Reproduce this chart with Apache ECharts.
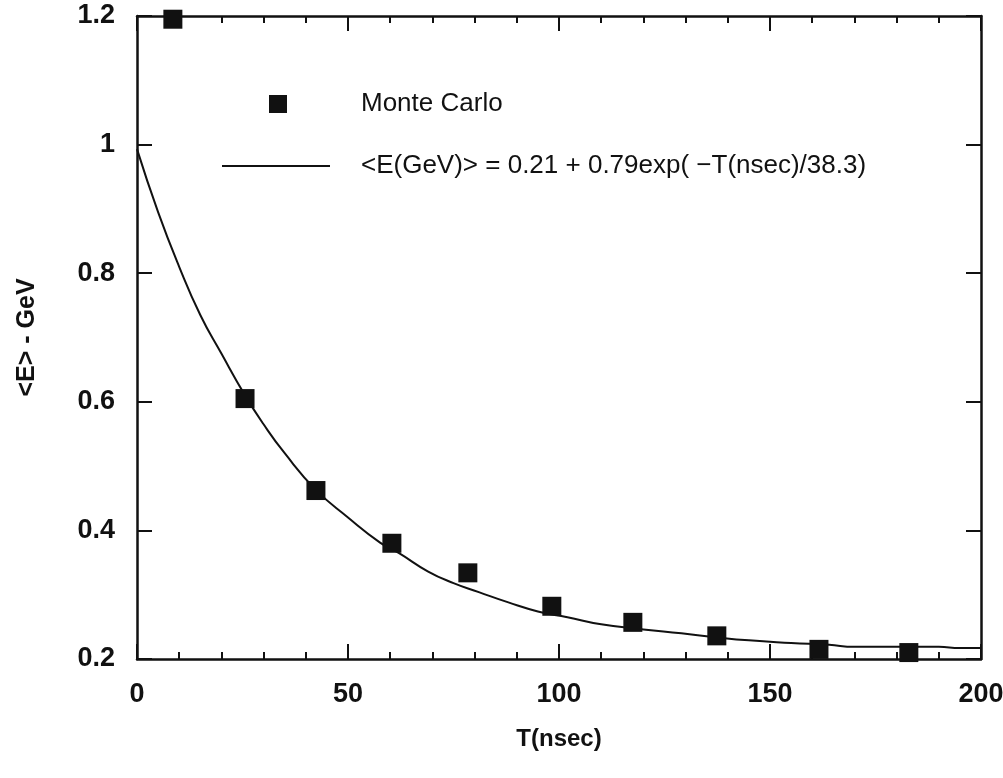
<!DOCTYPE html>
<html>
<head>
<meta charset="utf-8">
<script src="https://cdn.jsdelivr.net/npm/echarts@6/dist/echarts.min.js"></script>
<style>
html,body{margin:0;padding:0;background:#fff;}
#chart{width:1003px;height:778px;}
</style>
</head>
<body>
<div id="chart"></div>
<script>
// Monte Carlo points: T (nsec), <E> (GeV)
var mcT = [8.5, 25.6, 42.4, 60.4, 78.4, 98.3, 117.5, 137.4, 161.6, 182.9];
var mcE = [1.195, 0.605, 0.462, 0.380, 0.334, 0.282, 0.257, 0.236, 0.215, 0.210];
// Fit curve
var fitT = [0, 5, 10, 15, 20, 25.6, 30, 35, 42.4, 50, 57.6, 62, 69, 75, 81, 88, 95, 102, 110, 120, 129, 137, 145, 155, 164, 170, 180, 190, 195, 200];
var fitE = [0.993, 0.895, 0.81, 0.735, 0.675, 0.610, 0.565, 0.52, 0.463, 0.42, 0.381, 0.365, 0.336, 0.318, 0.304, 0.288, 0.274, 0.265, 0.254, 0.246, 0.240, 0.234, 0.229, 0.225, 0.222, 0.219, 0.219, 0.219, 0.217, 0.217];
var xTitle = 'T(nsec)';
var yTitle = '<E> - GeV';
var mcName = 'Monte Carlo';
var fitName = '<E(GeV)> = 0.21 + 0.79exp( \u2212T(nsec)/38.3)';

var mcData = mcT.map(function(t,i){return [t, mcE[i]];});
var fitData = fitT.map(function(t,i){return [t, fitE[i]];});

var FONT = '"Liberation Sans", Arial, sans-serif';
var axisLine = {show:true, onZero:false, lineStyle:{color:'#111', width:2.5}};

var chart = echarts.init(document.getElementById('chart'));
chart.setOption({
  backgroundColor:'#fff',
  animation:false,
  grid:{left:137, right:22, top:16, bottom:119, containLabel:false, outerBoundsMode:'none'},
  legend:[
    {data:[{name:mcName, icon:'rect'}], left:269, top:91, padding:0, itemWidth:18, itemHeight:18,
     textStyle:{fontFamily:FONT, fontSize:26, color:'#111', padding:[0,0,0,69]}},
    {data:[{name:fitName, icon:'path://M0,0L108,0L108,1.8L0,1.8Z'}], left:222, top:153, padding:0, itemWidth:108, itemHeight:2,
     textStyle:{fontFamily:FONT, fontSize:26, color:'#111', padding:[0,0,0,26]}}
  ],
  xAxis:[
    {type:'value', min:0, max:200, interval:50, position:'bottom',
     name:xTitle, nameLocation:'middle', nameGap:68,
     nameTextStyle:{fontFamily:FONT, fontSize:24, fontWeight:'bold', color:'#111'},
     axisLine:axisLine,
     axisTick:{show:true, inside:true, length:15, lineStyle:{color:'#111', width:2}},
     minorTick:{show:true, splitNumber:5, length:7, lineStyle:{color:'#111', width:2}},
     splitLine:{show:false},
     axisLabel:{fontFamily:FONT, fontSize:27, fontWeight:'bold', color:'#111', margin:22}},
    {type:'value', min:0, max:200, interval:50, position:'top',
     axisLine:axisLine,
     axisTick:{show:true, inside:true, length:15, lineStyle:{color:'#111', width:2}},
     minorTick:{show:true, splitNumber:5, length:7, lineStyle:{color:'#111', width:2}},
     splitLine:{show:false}, axisLabel:{show:false}}
  ],
  yAxis:[
    {type:'value', min:0.2, max:1.2, interval:0.2, position:'left',
     name:yTitle, nameLocation:'middle', nameGap:97, nameRotate:90,
     nameTextStyle:{fontFamily:FONT, fontSize:25, fontWeight:'bold', color:'#111'},
     axisLine:axisLine,
     axisTick:{show:true, inside:true, length:15, lineStyle:{color:'#111', width:2}},
     splitLine:{show:false},
     axisLabel:{fontFamily:FONT, fontSize:27, fontWeight:'bold', color:'#111', margin:22}},
    {type:'value', min:0.2, max:1.2, interval:0.2, position:'right',
     axisLine:axisLine,
     axisTick:{show:true, inside:true, length:15, lineStyle:{color:'#111', width:2}},
     splitLine:{show:false}, axisLabel:{show:false}}
  ],
  series:[
    {name:fitName, type:'line', data:fitData, smooth:true, showSymbol:false, symbol:'none',
     lineStyle:{color:'#111', width:2}, itemStyle:{color:'#111'}, z:2},
    {name:mcName, type:'scatter', data:mcData, symbol:'rect', symbolSize:19,
     itemStyle:{color:'#111', opacity:1}, z:3}
  ]
});
</script>
</body>
</html>
